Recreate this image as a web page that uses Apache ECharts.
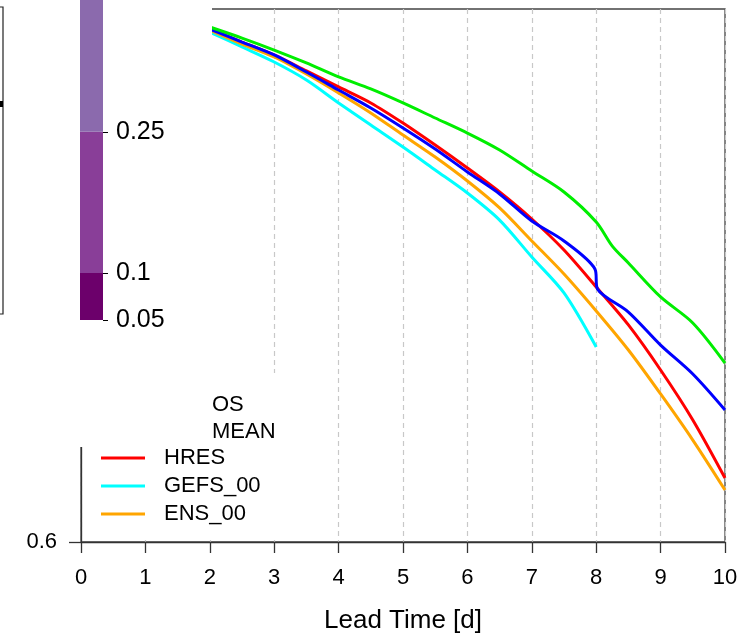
<!DOCTYPE html>
<html>
<head>
<meta charset="utf-8">
<script src="https://cdn.jsdelivr.net/npm/echarts@6/dist/echarts.min.js"></script>
<style>
  html, body { margin: 0; padding: 0; background: #fff; }
  #chart { width: 753px; height: 638px; }
</style>
</head>
<body>
<div id="chart"></div>
<script>
// Lead times (days) and mean scores per forecast system
const leadDays = [2, 2.5, 3, 3.5, 4, 4.5, 5, 5.5, 6, 6.5, 7, 7.5, 8, 8.5, 9, 9.5, 10];
const hres   = [0.985, 0.9752, 0.9655, 0.9535, 0.9415, 0.9295, 0.9144, 0.8979, 0.8807, 0.8627, 0.8424, 0.8191, 0.7914, 0.7629, 0.7291, 0.6916, 0.648];
const gefs00 = [0.9827, 0.9715, 0.9602, 0.9467, 0.9295, 0.9129, 0.8964, 0.8792, 0.8619, 0.8416, 0.8139, 0.7869, 0.7463];
const ens00  = [0.9842, 0.9737, 0.964, 0.9512, 0.937, 0.922, 0.9054, 0.8889, 0.8709, 0.8507, 0.8259, 0.8011, 0.7734, 0.7441, 0.7111, 0.6765, 0.639];

const blueDays = [2, 2.5, 3, 3.5, 4, 4.5, 5, 5.5, 6, 6.5, 7, 7.5, 7.98, 8.02, 8.5, 9, 9.5, 10];
const blueRun  = [0.985, 0.9752, 0.9655, 0.9527, 0.9392, 0.9257, 0.9107, 0.8949, 0.8777, 0.8612, 0.8409, 0.8259, 0.8049, 0.7899, 0.7726, 0.7478, 0.7261, 0.6991];

const greenDays = [2, 2.5, 3, 3.5, 4, 4.5, 5, 5.5, 6, 6.5, 7, 7.5, 8, 8.25, 8.5, 9, 9.5, 10];
const greenRun  = [0.9865, 0.9782, 0.9692, 0.9595, 0.949, 0.94, 0.9295, 0.9182, 0.9069, 0.8942, 0.8784, 0.8627, 0.8402, 0.8221, 0.8094, 0.7839, 0.7644, 0.7343];

// Colour bar: class boundaries and segment colours (bottom to top)
const cbTicks    = [0.05, 0.1, 0.25];
const cbSegments = [0.1, 0.15, 0.25];
const cbColors   = ['#6c006b', '#893e98', '#8b6aad'];

const FONT = 'Liberation Sans, Arial, Helvetica, sans-serif';

function pairs(xs, ys) { return ys.map((v, i) => [xs[i], v]); }

function lineSeries(name, xs, ys, color, smooth) {
  return {
    name: name, type: 'line', xAxisIndex: 0, yAxisIndex: 0,
    data: pairs(xs, ys), symbol: 'none', showSymbol: false,
    smooth: smooth,
    lineStyle: { color: color, width: 3 }, itemStyle: { color: color },
    emphasis: { disabled: true }, z: 2
  };
}

const chart = echarts.init(document.getElementById('chart'), null, { renderer: 'canvas' });

const cbSeries = cbSegments.map((v, i) => ({
  type: 'bar', xAxisIndex: 1, yAxisIndex: 1, stack: 'cb',
  data: [v], barWidth: '100%', itemStyle: { color: cbColors[i] },
  silent: true, z: 60
}));

const legendNames = ['HRES', 'GEFS_00', 'ENS_00'];

chart.setOption({
  animation: false,
  textStyle: { fontFamily: FONT },
  title: {
    text: 'OS\nMEAN', left: 212, top: 391, padding: 0, z: 60,
    textStyle: { fontSize: 22, fontWeight: 'normal', color: '#000', lineHeight: 27, fontFamily: FONT }
  },
  legend: {
    data: legendNames.map(n => ({ name: n, icon: 'rect' })), orient: 'vertical',
    left: 101, top: 447, padding: 0, itemWidth: 44, itemHeight: 3, itemGap: 6,
    textStyle: { fontSize: 22, color: '#000', lineHeight: 22, padding: [0, 0, 0, 14], fontFamily: FONT },
    selectedMode: false, z: 60
  },
  grid: [
    { left: 81, right: 28, top: 9, bottom: 96, outerBoundsMode: 'none',
      show: true, borderColor: '#444', borderWidth: 1.3, backgroundColor: 'transparent' },
    { left: 80, width: 23, top: 0, bottom: 318, outerBoundsMode: 'none', z: 60 }
  ],
  xAxis: [
    {
      type: 'value', gridIndex: 0, min: 0, max: 10, interval: 1,
      name: 'Lead Time [d]', nameLocation: 'middle', nameGap: 66,
      nameTextStyle: { fontSize: 26, color: '#000', fontFamily: FONT },
      axisLine: { show: true, lineStyle: { color: '#333', width: 1.3 } },
      axisTick: { show: true, inside: false, length: 11, lineStyle: { color: '#333', width: 1.3 } },
      axisLabel: { fontSize: 22, color: '#000', margin: 25, fontFamily: FONT },
      splitLine: { show: true, lineStyle: { color: '#c8c8c8', type: [5, 4], width: 1.2 } }
    },
    {
      type: 'category', gridIndex: 1, data: ['cb'], show: false
    }
  ],
  yAxis: [
    {
      type: 'value', gridIndex: 0, min: 0.6, max: 1.0, interval: 0.1,
      axisLine: { show: true, lineStyle: { color: '#333', width: 1.3 } },
      axisTick: { show: true, length: 12, customValues: [0.6], lineStyle: { color: '#333', width: 1.3 } },
      axisLabel: { fontSize: 22, color: '#000', margin: 24, customValues: [0.6], fontFamily: FONT },
      splitLine: { show: false }
    },
    {
      type: 'value', gridIndex: 1, min: 0.05, max: 0.39, position: 'right', z: 60,
      axisLine: { show: false },
      axisTick: { show: true, length: 5, customValues: cbTicks, lineStyle: { color: '#000', width: 1 } },
      axisLabel: { fontSize: 25, color: '#000', margin: 13, customValues: cbTicks, fontFamily: FONT,
                   formatter: v => String(v) },
      splitLine: { show: false }
    }
  ],
  graphic: [
    // panel that sits over the upper-left of the plot
    { type: 'rect', shape: { x: 0, y: 0, width: 212, height: 447 }, style: { fill: '#fff' }, z: 50, silent: true },
    // legend panel background
    { type: 'rect', shape: { x: 83, y: 373, width: 197, height: 167 }, style: { fill: '#fff' }, z: 50, silent: true },
    // edge of the neighbouring box on the far left
    { type: 'rect', shape: { x: -50, y: 7, width: 53, height: 307 }, style: { fill: 'none', stroke: '#222', lineWidth: 1.2 }, z: 60, silent: true },
    { type: 'rect', shape: { x: 0, y: 101, width: 3, height: 6 }, style: { fill: '#000' }, z: 60, silent: true }
  ],
  series: [
    lineSeries('HRES', leadDays, hres, '#ff0000', 0.3),
    lineSeries('GEFS_00', leadDays, gefs00, '#00ffff', 0.3),
    lineSeries('ENS_00', leadDays, ens00, '#ffa500', 0.3),
    lineSeries('blue', blueDays, blueRun, '#0000ff', 0.3),
    lineSeries('green', greenDays, greenRun, '#00ee00', 0.3)
  ].concat(cbSeries)
});
</script>
</body>
</html>
